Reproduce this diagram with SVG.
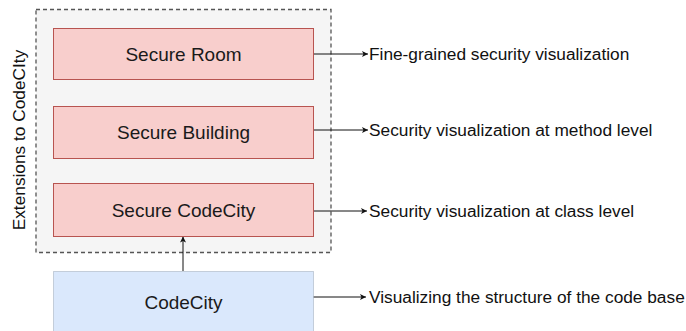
<svg xmlns="http://www.w3.org/2000/svg" width="686" height="331" viewBox="0 0 686 331">
  <defs>
    <style>
      .lbl { font-family: "Liberation Sans", Arial, sans-serif; font-size: 19px; fill: #1a1a1a; text-anchor: middle; }
      .side { font-family: "Liberation Sans", Arial, sans-serif; font-size: 17.3px; fill: #111111; }
      .red { fill: #f8cecc; stroke: #b85450; stroke-width: 1; }
      .blue { fill: #dae8fc; stroke: #9aa6b6; stroke-width: 1; stroke-dasharray: 1 1; }
      .edge { stroke: #111111; stroke-width: 1; fill: none; marker-end: url(#arr); }
    </style>
    <marker id="arr" viewBox="0 0 10 10" refX="10" refY="5" markerWidth="6" markerHeight="6" orient="auto" markerUnits="userSpaceOnUse">
      <path d="M0,0 L10,5 L0,10 L2.5,5 Z" fill="#111111"/>
    </marker>
  </defs>
  <rect width="686" height="331" fill="#ffffff"/>

  <g id="container">
    <rect x="36" y="9.5" width="295" height="243" fill="#f5f5f5" stroke="#555555" stroke-width="1.3" stroke-dasharray="4 3"/>
    <text class="side" transform="translate(25,140) rotate(-90)" text-anchor="middle">Extensions to CodeCIty</text>
  </g>

  <g id="connectors">
    <line class="edge" x1="313" y1="54" x2="368" y2="54"/>
    <line class="edge" x1="313" y1="130" x2="368" y2="130"/>
    <line class="edge" x1="313" y1="211" x2="367" y2="211"/>
    <line class="edge" x1="313" y1="297" x2="366" y2="297"/>
    <line class="edge" x1="183" y1="271" x2="183" y2="236.5"/>
  </g>

  <g id="secure-room">
    <rect class="red" x="53.5" y="28.5" width="260" height="51"/>
    <text class="lbl" x="183.5" y="60.5">Secure Room</text>
  </g>

  <g id="secure-building">
    <rect class="red" x="53.5" y="106.5" width="260" height="52"/>
    <text class="lbl" x="183.5" y="139">Secure Building</text>
  </g>

  <g id="secure-codecity">
    <rect class="red" x="53.5" y="183.5" width="260" height="53"/>
    <text class="lbl" x="183.5" y="216.5">Secure CodeCity</text>
  </g>

  <g id="codecity">
    <rect class="blue" x="53.5" y="271.5" width="260" height="62"/>
    <text class="lbl" x="183.5" y="309">CodeCity</text>
  </g>

  <g id="descriptions">
    <text class="side" x="369" y="60">Fine-grained security visualization</text>
    <text class="side" x="369" y="136">Security visualization at method level</text>
    <text class="side" x="369" y="217">Security visualization at class level</text>
    <text class="side" x="369" y="303">Visualizing the structure of the code base</text>
  </g>
</svg>
